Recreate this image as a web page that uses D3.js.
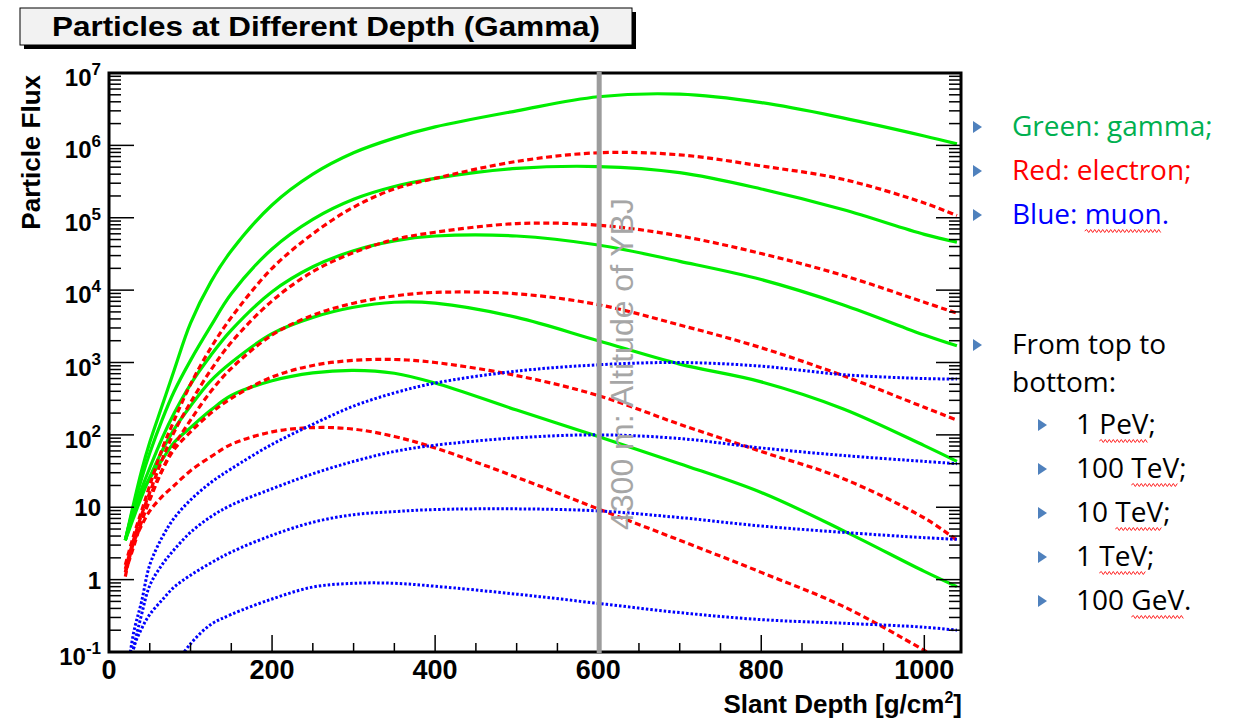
<!DOCTYPE html>
<html><head><meta charset="utf-8">
<script src="https://cdn.jsdelivr.net/npm/d3@7"></script>
<style>body{margin:0;background:#fff;} svg{display:block}</style>
</head><body><svg id="c" width="1237" height="722"></svg>
<script>
// ---------------- DATA ----------------
const titleText = "Particles at Different Depth (Gamma)";
const xTitle = "Slant Depth [g/cm";
const yTitle = "Particle Flux";
const xTickValues = [0, 200, 400, 600, 800, 1000];
const yTickExponents = [-1, 0, 1, 2, 3, 4, 5, 6, 7];
const energies = ["1 PeV", "100 TeV", "10 TeV", "1 TeV", "100 GeV"];

// slant depth grid [g/cm2]
const depth = [20, 30, 40, 50, 65, 80, 100, 125, 150, 200, 250, 300, 350, 400, 500, 600, 700, 800, 900, 1000, 1040];

// gamma (green, solid)
const gamma_1PeV   = [3.5, 11, 32, 79, 250, 790, 3500, 1.3e4, 3.5e4, 1.5e5, 4e5, 7.9e5, 1.26e6, 1.8e6, 3e6, 4.7e6, 5.1e6, 3.9e6, 2.4e6, 1.35e6, 1.05e6];
const gamma_100TeV = [3.5, 10, 25, 56, 160, 400, 1070, 3200, 8900, 3.7e4, 9.5e4, 1.8e5, 2.7e5, 3.5e5, 4.8e5, 5.1e5, 4.2e5, 2.5e5, 1.3e5, 5.9e4, 4.6e4];
const gamma_10TeV  = [3.5, 7.9, 18, 35, 89, 200, 500, 1260, 2800, 9500, 2.1e4, 3.5e4, 4.8e4, 5.6e4, 5.6e4, 4.2e4, 2.5e4, 1.4e4, 6300, 2400, 1700];
const gamma_1TeV   = [3.5, 7.1, 14, 26, 60, 120, 250, 560, 1000, 2500, 4200, 5800, 6800, 6600, 4200, 2000, 950, 540, 230, 71, 43];
const gamma_100GeV = [3.5, 8.9, 16, 25, 45, 79, 126, 220, 350, 560, 720, 780, 710, 520, 220, 95, 40, 16, 4.8, 1.3, 0.8];

// electron (red, dashed)
const electron_1PeV   = [1.6, 4, 8.9, 20, 63, 160, 500, 1600, 4200, 2e4, 6e4, 1.4e5, 2.5e5, 3.5e5, 6e5, 7.9e5, 7.4e5, 5.2e5, 3.4e5, 1.6e5, 1.07e5];
const electron_100TeV = [1.4, 3.5, 7.9, 16, 45, 110, 280, 790, 1900, 7100, 1.8e4, 3.3e4, 5e4, 6.3e4, 8.3e4, 7.9e4, 5.6e4, 3.2e4, 1.6e4, 6800, 4800];
const electron_10TeV  = [1.26, 2.8, 6.3, 12.6, 32, 71, 160, 400, 830, 2400, 4500, 6600, 8300, 9300, 8900, 6300, 3300, 1600, 660, 240, 160];
const electron_1TeV   = [1.26, 3.2, 7.1, 14, 32, 63, 110, 200, 320, 630, 910, 1070, 1100, 1000, 660, 350, 140, 59, 25, 7.1, 3.5];
const electron_100GeV = [1.1, 3.2, 5.6, 8.9, 14, 20, 32, 50, 74, 110, 126, 120, 95, 66, 26, 9.5, 3.5, 1.26, 0.43, 0.105, 0.056];

// muon (blue, dotted)
const muon_1PeV   = [0.032, 0.18, 0.5, 1.6, 3.8, 7.1, 12.6, 22, 34, 74, 140, 250, 380, 520, 760, 930, 1000, 890, 680, 600, 590];
const muon_100TeV = [0.02, 0.11, 0.33, 0.83, 1.6, 2.6, 4.5, 7.4, 10.7, 18, 29, 43, 59, 72, 91, 100, 89, 66, 52, 43, 40];
const muon_10TeV  = [0.013, 0.11, 0.21, 0.33, 0.52, 0.79, 1.15, 1.7, 2.4, 4.1, 6.2, 7.9, 8.7, 9.3, 9.5, 8.9, 7.2, 5.5, 4.5, 3.8, 3.6];
const muon_1TeV   = [null, null, null, null, null, 0.063, 0.13, 0.24, 0.33, 0.54, 0.79, 0.89, 0.89, 0.81, 0.63, 0.47, 0.35, 0.28, 0.25, 0.22, 0.2];

const altitudeDepth = 600;
const altitudeLabel = "4300 m: Altitude of YBJ";

const legendLines = [
  {text: "Green: gamma;", color: "#00b050", level: 0, bullet: true, wavy: null},
  {text: "Red: electron;", color: "#ff0000", level: 0, bullet: true, wavy: null},
  {text: "Blue: muon.", color: "#0000ff", level: 0, bullet: true, wavy: "muon"},
  {text: "From top to", color: "#000000", level: 0, bullet: true, wavy: null},
  {text: "bottom:", color: "#000000", level: 0, bullet: false, wavy: null},
  {text: "1 PeV;", color: "#000000", level: 1, bullet: true, wavy: "PeV"},
  {text: "100 TeV;", color: "#000000", level: 1, bullet: true, wavy: "TeV"},
  {text: "10 TeV;", color: "#000000", level: 1, bullet: true, wavy: "TeV"},
  {text: "1 TeV;", color: "#000000", level: 1, bullet: true, wavy: "TeV"},
  {text: "100 GeV.", color: "#000000", level: 1, bullet: true, wavy: "GeV"}
];
const legendBaselines = [136, 180, 224, 354, 392, 434, 478, 522, 566, 610];

// ---------------- LAYOUT ----------------
const L = 109, R = 961, T = 73, B = 652;
const AX = "'Liberation Sans', Arial, Helvetica, sans-serif";
const svg = d3.select("#c");
const x = d3.scaleLinear().domain([0, 1045]).range([L, R]);
const y = d3.scaleLog().domain([0.1, 1e7]).range([B, T]);

// title box
svg.append("rect").attr("x", 24).attr("y", 12).attr("width", 612).attr("height", 37).attr("fill", "#000");
svg.append("rect").attr("x", 20).attr("y", 8).attr("width", 612).attr("height", 37)
  .attr("fill", "#f2f2f2").attr("stroke", "#000").attr("stroke-width", 1);
svg.append("text").attr("x", 326).attr("y", 36).attr("text-anchor", "middle")
  .attr("font-family", AX).attr("font-weight", "bold").attr("font-size", 28)
  .attr("textLength", 548).attr("lengthAdjust", "spacingAndGlyphs").text(titleText);

// clip
svg.append("clipPath").attr("id", "plot").append("rect")
  .attr("x", L).attr("y", T).attr("width", R - L).attr("height", B - T);

const series = [];
const gammas = [gamma_1PeV, gamma_100TeV, gamma_10TeV, gamma_1TeV, gamma_100GeV];
const electrons = [electron_1PeV, electron_100TeV, electron_10TeV, electron_1TeV, electron_100GeV];
const muons = [muon_1PeV, muon_100TeV, muon_10TeV, muon_1TeV];
gammas.forEach((v, i) => series.push({vals: v, color: "#00ee00", dash: null, w: 3.2, name: "gamma " + energies[i]}));
electrons.forEach((v, i) => series.push({vals: v, color: "#ff0000", dash: "6,3.5", w: 3.2, name: "electron " + energies[i]}));
muons.forEach((v, i) => series.push({vals: v, color: "#0000ff", dash: "2.5,2", w: 3, name: "muon " + energies[i]}));

const line = d3.line()
  .defined(d => d[1] != null)
  .x(d => x(d[0])).y(d => y(d[1]))
  .curve(d3.curveCatmullRom.alpha(0.5));

const g = svg.append("g").attr("clip-path", "url(#plot)");
series.forEach(s => {
  g.append("path").attr("d", line(depth.map((d, i) => [d, s.vals[i]])))
    .attr("fill", "none").attr("stroke", s.color).attr("stroke-width", s.w)
    .attr("stroke-dasharray", s.dash).attr("stroke-linejoin", "round");
});

// ticks
const tk = svg.append("g").attr("stroke", "#000").attr("stroke-width", 1.5);
y.ticks().forEach(t => {
  const major = Math.abs(Math.log10(t) - Math.round(Math.log10(t))) < 1e-9;
  const len = major ? 25 : 12;
  tk.append("line").attr("x1", L).attr("x2", L + len).attr("y1", y(t)).attr("y2", y(t));
  tk.append("line").attr("x1", R).attr("x2", R - len).attr("y1", y(t)).attr("y2", y(t));
});
d3.range(0, 1046, 50).forEach(v => {
  const major = v % 200 === 0;
  const len = major ? 17 : 9;
  tk.append("line").attr("x1", x(v)).attr("x2", x(v)).attr("y1", B).attr("y2", B - len);
});

// frame
svg.append("rect").attr("x", L).attr("y", T).attr("width", R - L).attr("height", B - T)
  .attr("fill", "none").attr("stroke", "#000").attr("stroke-width", 3);

// altitude line
svg.append("line").attr("x1", x(altitudeDepth) + 1).attr("x2", x(altitudeDepth) + 1)
  .attr("y1", T - 1).attr("y2", B + 1).attr("stroke", "#9c9c9c").attr("stroke-width", 5);
svg.append("text").attr("transform", `translate(${x(altitudeDepth) + 35},530) rotate(-90)`)
  .attr("font-family", AX).attr("font-size", 32).attr("fill", "#a6a6a6").text(altitudeLabel);

// x tick labels
svg.append("g").selectAll("text").data(xTickValues).join("text")
  .attr("x", d => x(d)).attr("y", 679).attr("text-anchor", "middle")
  .attr("font-family", AX).attr("font-weight", "bold").attr("font-size", 27).text(d => d);

// y tick labels
yTickExponents.forEach(e => {
  const v = Math.pow(10, e);
  const t = svg.append("text").attr("x", 101).attr("text-anchor", "end")
    .attr("font-family", AX).attr("font-weight", "bold").attr("font-size", 24);
  if (e === 0 || e === 1) {
    t.attr("y", y(v) + 9).text(e === 0 ? "1" : "10");
  } else {
    t.attr("y", y(v) + 13);
    t.append("tspan").text("10");
    t.append("tspan").attr("font-size", 17).attr("dy", -11).text(String(e));
  }
});

// axis titles
const xt = svg.append("text").attr("x", 962).attr("y", 713).attr("text-anchor", "end")
  .attr("font-family", AX).attr("font-weight", "bold").attr("font-size", 26);
xt.append("tspan").text(xTitle);
xt.append("tspan").attr("font-size", 16).attr("dy", -10).text("2");
xt.append("tspan").attr("dy", 10).text("]");

svg.append("text").attr("transform", "translate(40,75) rotate(-90)").attr("text-anchor", "end")
  .attr("font-family", AX).attr("font-weight", "bold").attr("font-size", 26).text(yTitle);

// legend (slide bullets)
const LF = "'Open Sans', Lato, sans-serif";
legendLines.forEach((d, i) => {
  const by = legendBaselines[i];
  const bx = d.level === 0 ? 973 : 1038;
  const tx = d.level === 0 ? 1012 : 1076;
  if (d.bullet) {
    svg.append("path").attr("d", `M${bx},${by - 15} L${bx + 9},${by - 9} L${bx},${by - 3} Z`).attr("fill", "#4f81bd");
  }
  const t = svg.append("text").attr("x", tx).attr("y", by).attr("font-family", LF)
    .attr("font-size", 28).attr("fill", d.color).text(d.text);
  if (d.wavy) {
    const idx = d.text.indexOf(d.wavy);
    const node = t.node();
    const x0 = tx + (idx > 0 ? node.getSubStringLength(0, idx) : 0);
    const wl = node.getSubStringLength(idx, d.wavy.length);
    let p = `M${x0},${by + 7}`;
    let k = 0;
    for (let xx = x0 + 2; xx <= x0 + wl; xx += 2) { k++; p += ` L${xx},${by + 7 + (k % 2 ? -1.5 : 1.5)}`; }
    svg.append("path").attr("d", p).attr("fill", "none").attr("stroke", "#ff2020").attr("stroke-width", 1);
  }
});
</script></body></html>
